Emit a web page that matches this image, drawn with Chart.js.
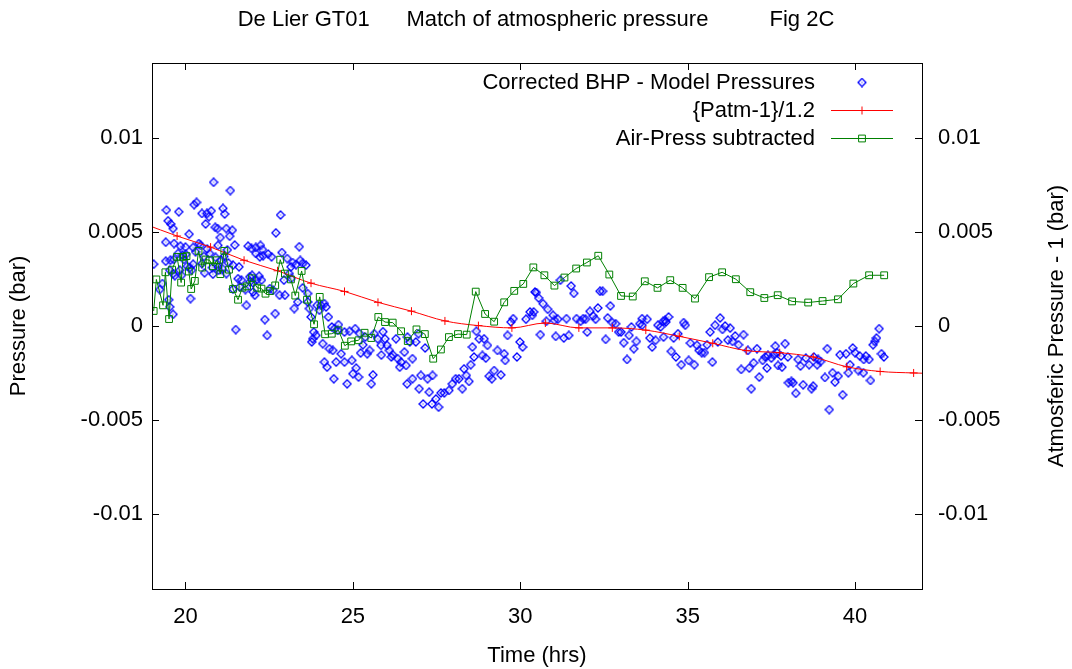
<!DOCTYPE html>
<html>
<head>
<meta charset="utf-8">
<title>De Lier GT01 - Match of atmospheric pressure</title>
<script src="https://cdn.jsdelivr.net/npm/chart.js@4.4.1/dist/chart.umd.min.js"></script>
<style>
	html, body { margin: 0; padding: 0; background: #fff; }
	#wrap { width: 1072px; height: 669px; }
</style>
</head>
<body>
<div id="wrap"><canvas id="pressureChart" width="1072" height="669"></canvas></div>
<script>
	'use strict';

	// Axis ticks
	const xTicks = [20, 25, 30, 35, 40];
	const yTicks = [-0.01, -0.005, 0, 0.005, 0.01];

	// Corrected BHP - Model Pressures (time in hrs, pressure in bar)
	const bhpTime = [
		20.84, 21.34, 20.33, 20.26, 19.43, 19.80, 20.49, 20.64, 20.77, 20.70, 20.60, 21.12, 21.17, 19.48, 19.56, 19.63,
		20.89, 20.96, 21.22, 21.40, 20.11, 22.70, 21.04, 21.32, 19.41, 19.66, 20.40, 20.45, 20.97, 21.47, 20.23, 19.78,
		19.91, 20.01, 20.72, 21.87, 21.97, 22.10, 22.24, 22.30, 19.05, 19.41, 19.55, 19.65, 19.95, 20.05, 20.13, 20.23,
		20.49, 20.57, 20.82, 20.99, 21.07, 21.28, 21.42, 21.60, 21.92, 21.99, 22.20, 22.10, 22.22, 22.32, 22.47, 22.57,
		21.42, 21.62, 21.79, 21.82, 21.50, 22.37, 22.44, 22.68, 20.15, 19.53, 19.63, 19.31, 19.23, 19.50, 19.53, 19.63,
		19.68, 19.83, 19.88, 20.18, 20.80, 20.97, 21.10, 21.22, 21.57, 21.67, 21.92, 22.02, 22.12, 22.27, 22.52, 22.62,
		22.02, 22.07, 20.30, 20.55, 20.65, 20.90, 21.15, 21.25, 20.00, 19.85,
		22.84, 23.40, 22.88, 23.04, 23.20, 23.15, 23.30, 23.43, 23.50, 23.60, 23.10, 22.94, 23.16, 22.97, 22.81, 23.25,
		23.35, 23.50, 23.65, 23.65, 23.70, 23.75, 23.93, 24.05, 24.15, 24.20, 24.00, 24.27, 23.83, 23.90, 23.80, 23.77,
		24.10, 24.37, 24.45, 24.57, 24.55, 24.75, 24.90, 25.07, 24.30, 24.40, 24.50, 24.65, 24.75, 24.15, 24.23, 24.43,
		24.83, 24.97, 25.10, 25.00, 25.17, 25.23, 25.43, 25.50, 25.37, 25.64, 25.74, 25.84, 25.55, 25.60, 25.96, 26.02,
		26.09, 26.19, 26.34, 26.44, 26.29, 26.54, 26.59, 26.62, 25.85, 26.15, 26.40, 25.30, 25.90, 25.20,
		26.63, 26.70, 26.88, 26.96, 27.16, 26.78, 26.78, 27.03, 26.98, 27.10, 27.36, 27.23, 27.38, 27.28, 27.48, 27.56,
		27.63, 27.73, 27.87, 27.97, 28.07, 28.17, 28.27, 28.32, 28.39, 28.47, 28.52, 28.57, 28.62, 28.87, 28.97, 28.92,
		28.77, 28.69, 29.02, 29.07, 29.15, 29.22, 29.42, 29.32, 29.55, 29.52, 29.79, 29.72, 29.62, 29.90, 29.99, 30.07,
		30.17, 30.29, 30.36, 30.44,
		30.48, 30.55, 30.68, 30.82, 30.40, 30.98, 31.12, 31.02, 30.78, 30.60, 31.20, 31.52, 31.60, 31.38, 31.06, 31.30,
		31.45, 31.68, 31.80, 31.88, 31.95, 32.08, 32.18, 32.25, 32.32, 32.00, 32.38, 32.46, 32.69, 32.61, 32.75, 32.85,
		32.55, 32.94, 33.01, 33.09, 33.25, 33.32, 33.39, 33.47, 33.19, 33.57, 33.64, 33.79, 33.64, 33.87, 33.94, 34.04,
		34.11, 34.19, 34.27,
		34.43, 34.33, 34.35, 34.88, 34.93, 34.71, 34.58, 34.28, 34.51, 34.65, 34.81, 35.03, 35.20, 35.28, 35.08, 35.34,
		35.42, 35.50, 35.58, 35.67, 35.74, 35.82, 35.97, 36.04, 36.12, 36.27, 35.90, 36.20, 36.34, 36.42, 36.52, 36.67,
		36.60, 36.84, 36.97, 37.14, 36.90, 37.07, 36.80, 37.24, 37.32, 37.40, 37.50, 37.57, 37.67, 37.62, 37.91, 37.37,
		37.70, 37.82, 38.01, 37.79, 37.99,
		40.72, 40.64, 40.59, 40.54, 40.79, 40.86, 39.93, 40.00, 39.55, 39.73, 40.14, 40.32, 40.42, 40.26, 39.17, 38.53,
		38.30, 38.37, 38.63, 38.87, 38.97, 38.90, 38.77, 39.10, 39.33, 39.50, 39.40, 39.85, 39.80, 40.10, 40.25, 40.46,
		38.10, 38.15, 38.45, 38.23, 38.75, 38.70, 39.63, 39.23
	];
	const bhpDiff = [
		0.00765, 0.00721, 0.00658, 0.00646, 0.00617, 0.00608, 0.00599, 0.00599, 0.00613, 0.00582, 0.00543, 0.00626, 0.00596, 0.00560, 0.00543, 0.00519,
		0.00525, 0.00519, 0.00519, 0.00510, 0.00489, 0.00496, 0.00471, 0.00478, 0.00446, 0.00439, 0.00439, 0.00429, 0.00429, 0.00431, 0.00418, 0.00386,
		0.00377, 0.00381, 0.00386, 0.00425, 0.00413, 0.00418, 0.00429, 0.00407, 0.00329, 0.00345, 0.00350, 0.00354, 0.00354, 0.00318, 0.00311, 0.00329,
		0.00332, 0.00283, 0.00276, 0.00297, 0.00351, 0.00336, 0.00324, 0.00315, 0.00262, 0.00270, 0.00265, 0.00386, 0.00368, 0.00374, 0.00383, 0.00368,
		0.00196, 0.00208, 0.00194, 0.00110, -0.00019, 0.00034, -0.00050, 0.00066, 0.00146, 0.00102, 0.00062, 0.00226, 0.00194, 0.00140, 0.00297, 0.00279,
		0.00268, 0.00297, 0.00270, 0.00297, 0.00311, 0.00315, 0.00306, 0.00279, 0.00252, 0.00244, 0.00235, 0.00229, 0.00244, 0.00244, 0.00199, 0.00190,
		0.00181, 0.00164, 0.00395, 0.00370, 0.00410, 0.00365, 0.00370, 0.00405, 0.00420, 0.00425,
		0.00591, 0.00422, 0.00391, 0.00359, 0.00338, 0.00315, 0.00327, 0.00349, 0.00333, 0.00324, 0.00279, 0.00244, 0.00253, 0.00164, 0.00164, 0.00093,
		0.00128, 0.00203, 0.00173, 0.00128, 0.00093, 0.00048, 0.00110, 0.00110, 0.00119, 0.00101, 0.00084, 0.00048, -0.00032, -0.00050, -0.00068, -0.00085,
		-0.00094, -0.00005, -0.00014, 0.00007, -0.00023, -0.00032, -0.00028, -0.00014, -0.00121, -0.00130, -0.00192, -0.00148, -0.00192, -0.00192, -0.00219, -0.00281,
		-0.00308, -0.00183, -0.00224, -0.00254, -0.00272, -0.00144, -0.00148, -0.00130, -0.00059, -0.00041, -0.00068, -0.00103, -0.00308, -0.00260, -0.00068, -0.00103,
		-0.00130, -0.00153, -0.00174, -0.00192, -0.00068, -0.00139, -0.00210, -0.00308, -0.00155, -0.00165, -0.00219, -0.00100, -0.00030, -0.00040,
		-0.00059, -0.00085, -0.00085, -0.00041, -0.00117, -0.00281, -0.00174, -0.00263, -0.00334, -0.00415, -0.00415, -0.00281, -0.00263, -0.00352, -0.00388, -0.00432,
		-0.00356, -0.00356, -0.00343, -0.00308, -0.00281, -0.00281, -0.00334, -0.00228, -0.00263, -0.00295, -0.00206, -0.00112, -0.00165, -0.00157, -0.00171, -0.00068,
		-0.00068, -0.00028, -0.00103, -0.00267, -0.00281, -0.00237, -0.00260, -0.00130, -0.00183, -0.00148, 0.00039, 0.00021, -0.00050, -0.00165, -0.00085, -0.00112,
		0.00036, 0.00075, 0.00057, 0.00181,
		0.00178, 0.00149, 0.00119, 0.00089, 0.00075, 0.00057, 0.00036, 0.00030, 0.00025, -0.00046, 0.00244, 0.00213, 0.00174, 0.00039, -0.00055, -0.00064,
		-0.00050, 0.00039, 0.00025, 0.00039, 0.00036, 0.00078, 0.00053, 0.00036, 0.00096, -0.00032, 0.00185, 0.00185, 0.00107, 0.00043, 0.00018, 0.00012,
		-0.00071, -0.00032, -0.00032, -0.00089, -0.00050, -0.00005, -0.00121, -0.00082, -0.00178, 0.00012, 0.00039, 0.00036, 0.00004, -0.00064, -0.00112, -0.00076,
		0.00004, -0.00005, 0.00025,
		0.00048, 0.00030, 0.00021, 0.00018, 0.00004, -0.00041, -0.00064, -0.00059, -0.00135, -0.00165, -0.00206, -0.00183, -0.00206, -0.00103, -0.00091, -0.00130,
		-0.00142, -0.00142, -0.00100, -0.00032, -0.00192, 0.00004, 0.00043, -0.00018, 0.00000, -0.00011, -0.00085, -0.00075, -0.00082, -0.00053, -0.00100, -0.00046,
		-0.00231, -0.00224, -0.00196, -0.00272, -0.00334, -0.00121, -0.00130, -0.00183, -0.00165, -0.00157, -0.00171, -0.00153, -0.00142, -0.00107, -0.00094, -0.00224,
		-0.00210, -0.00219, -0.00302, -0.00160, -0.00165,
		-0.00014, -0.00064, -0.00082, -0.00100, -0.00148, -0.00165, -0.00117, -0.00142, -0.00153, -0.00148, -0.00160, -0.00160, -0.00178, -0.00178, -0.00121, -0.00171,
		-0.00178, -0.00213, -0.00206, -0.00206, -0.00189, -0.00178, -0.00165, -0.00274, -0.00249, -0.00267, -0.00299, -0.00206, -0.00249, -0.00237, -0.00249, -0.00290,
		-0.00295, -0.00302, -0.00313, -0.00358, -0.00320, -0.00334, -0.00366, -0.00445
	];

	// {Patm-1}/1.2
	const patmTime = [18.75, 19.75, 20.75, 21.75, 22.75, 23.75, 24.75, 25.75, 26.75, 27.75, 28.75, 29.75, 30.75,
		31.75, 32.75, 33.75, 34.75, 35.75, 36.75, 37.75, 38.75, 39.75, 40.75, 41.75, 42.75];
	const patmValue = [0.00545, 0.00479, 0.00420, 0.00350, 0.00294, 0.00228, 0.00184, 0.00126, 0.00079, 0.00027, 0.00002, -0.00010, 0.00016,
		-0.00010, -0.00010, -0.00022, -0.00055, -0.00092, -0.00131, -0.00142, -0.00165, -0.00217, -0.00242, -0.00250, -0.00255];

	// Air-Press subtracted
	const airTime = [19.05, 19.13, 19.33, 19.40, 19.51, 19.60, 19.75, 19.87, 19.93, 20.03, 20.10, 20.17, 20.28, 20.39, 20.50, 20.60,
		20.72, 20.82, 20.94, 21.04, 21.16, 21.30, 21.42, 21.57, 21.70, 21.84, 21.98, 22.14, 22.27, 22.39, 22.52, 22.68,
		22.83, 22.97, 23.15, 23.28, 23.47, 23.63, 23.84, 24.01, 24.17, 24.37, 24.57, 24.76, 24.95, 25.17, 25.35, 25.55,
		25.76, 25.96, 26.19, 26.44, 26.64, 26.90, 27.15, 27.40, 27.63, 27.87, 28.14, 28.40, 28.67, 28.95, 29.22, 29.52,
		29.82, 30.09, 30.39, 30.72, 31.02, 31.32, 31.67, 31.99, 32.33, 32.66, 33.01, 33.36, 33.72, 34.10, 34.48, 34.85,
		35.22, 35.64, 36.03, 36.44, 36.87, 37.29, 37.69, 38.12, 38.60, 39.03, 39.49, 39.95, 40.42, 40.87];
	const airValue = [0.00080, 0.00248, 0.00110, 0.00286, 0.00037, 0.00300, 0.00368, 0.00231, 0.00368, 0.00372, 0.00290, 0.00197, 0.00240, 0.00400, 0.00311, 0.00354,
		0.00350, 0.00318, 0.00350, 0.00276, 0.00400, 0.00300, 0.00197, 0.00140, 0.00204, 0.00211, 0.00254, 0.00204, 0.00199, 0.00172, 0.00186, 0.00216,
		0.00353, 0.00279, 0.00248, 0.00162, 0.00293, 0.00140, 0.00009, 0.00155, -0.00044, -0.00041, -0.00023, -0.00105, -0.00082, -0.00076, -0.00036, -0.00064,
		0.00048, 0.00021, 0.00018, -0.00028, -0.00080, -0.00018, -0.00043, -0.00174, -0.00125, -0.00059, -0.00043, -0.00046, 0.00183, 0.00064, 0.00023, 0.00126,
		0.00187, 0.00224, 0.00312, 0.00270, 0.00215, 0.00258, 0.00306, 0.00338, 0.00374, 0.00274, 0.00160, 0.00157, 0.00238, 0.00203, 0.00244, 0.00203,
		0.00146, 0.00260, 0.00286, 0.00249, 0.00180, 0.00149, 0.00164, 0.00131, 0.00125, 0.00133, 0.00142, 0.00226, 0.00270, 0.00270];

	const toPoints = (xs, ys) => xs.map((x, i) => ({ x: x, y: ys[i] }));

	const FONT = "'Liberation Sans', Arial, sans-serif";
	const FONT_SIZE = 22;
	Chart.defaults.font.family = FONT;
	Chart.defaults.font.size = FONT_SIZE;
	Chart.defaults.color = '#000';

	/**
	 * gnuplot style hollow diamond with a centre dot
	 */
	function makeDiamond() {
		const c = document.createElement('canvas');
		c.width = 10;
		c.height = 10;
		const g = c.getContext('2d');
		g.strokeStyle = '#0000ff';
		g.lineWidth = 1.3;
		g.beginPath();
		g.moveTo(5, 1);
		g.lineTo(9, 5);
		g.lineTo(5, 9);
		g.lineTo(1, 5);
		g.closePath();
		g.stroke();
		g.fillStyle = '#0000ff';
		g.fillRect(4.5, 4.5, 1, 1);
		return c;
	}
	const diamond = makeDiamond();

	/**
	 * Frame with inward ticks on all four sides, gnuplot style
	 */
	const framePlugin = {
		id: 'frame',
		afterDraw(chart) {
			const { ctx, chartArea: a, scales } = chart;
			const len = 7;
			ctx.save();
			ctx.strokeStyle = '#000';
			ctx.lineWidth = 1;
			ctx.beginPath();
			xTicks.forEach(v => {
				const px = Math.round(scales.x.getPixelForValue(v)) + 0.5;
				ctx.moveTo(px, a.bottom);
				ctx.lineTo(px, a.bottom - len);
				ctx.moveTo(px, a.top);
				ctx.lineTo(px, a.top + len);
			});
			yTicks.forEach(v => {
				const py = Math.round(scales.y.getPixelForValue(v)) + 0.5;
				ctx.moveTo(a.left, py);
				ctx.lineTo(a.left + len, py);
				ctx.moveTo(a.right, py);
				ctx.lineTo(a.right - len, py);
			});
			ctx.stroke();
			ctx.strokeRect(Math.round(a.left) + 0.5, Math.round(a.top) + 0.5,
				Math.round(a.right - a.left), Math.round(a.bottom - a.top));
			ctx.restore();
		}
	};

	/**
	 * Right hand axis title, reading bottom to top
	 */
	const rightTitlePlugin = {
		id: 'rightTitle',
		afterDraw(chart) {
			const ctx = chart.ctx;
			ctx.save();
			ctx.font = FONT_SIZE + 'px ' + FONT;
			ctx.fillStyle = '#000';
			ctx.textAlign = 'center';
			ctx.textBaseline = 'middle';
			ctx.translate(1057, (chart.chartArea.top + chart.chartArea.bottom) / 2);
			ctx.rotate(-Math.PI / 2);
			ctx.fillText('Atmosferic Pressure - 1 (bar)', 0, 0);
			ctx.restore();
		}
	};

	/**
	 * Key in the top right corner: text right aligned, then the sample
	 */
	const keyPlugin = {
		id: 'key',
		afterDraw(chart) {
			const ctx = chart.ctx;
			const textRight = 815;
			const lineFrom = 831;
			const lineTo = 893;
			const mid = 862;
			const rows = [82.5, 110.5, 138.5];
			const order = [2, 1, 0];

			ctx.save();
			ctx.font = FONT_SIZE + 'px ' + FONT;
			ctx.textAlign = 'right';
			ctx.textBaseline = 'middle';
			order.forEach((di, r) => {
				const ds = chart.data.datasets[di];
				const y = rows[r];
				ctx.fillStyle = '#000';
				ctx.fillText(ds.label, textRight, y);
				if (ds.showLine) {
					ctx.strokeStyle = ds.borderColor;
					ctx.lineWidth = ds.borderWidth;
					ctx.beginPath();
					ctx.moveTo(lineFrom, y);
					ctx.lineTo(lineTo, y);
					ctx.stroke();
				}
				ctx.fillStyle = 'rgba(0,0,0,0)';
				ctx.strokeStyle = ds.pointBorderColor || '#0000ff';
				ctx.lineWidth = 1;
				Chart.helpers.drawPoint(ctx, {
					pointStyle: ds.pointStyle,
					radius: ds.pointRadius,
					borderWidth: 1,
					rotation: 0
				}, mid, y);
			});
			ctx.restore();
		}
	};

	const fixedTicks = values => scale => {
		scale.ticks = values.map(v => ({ value: v }));
	};

	new Chart(document.getElementById('pressureChart'), {
		type: 'scatter',
		data: {
			datasets: [
				{
					label: 'Air-Press subtracted',
					type: 'line',
					data: toPoints(airTime, airValue),
					borderColor: '#008000',
					borderWidth: 1,
					pointStyle: 'rect',
					pointRadius: 4.8,
					pointBorderColor: '#008000',
					pointBorderWidth: 1,
					pointBackgroundColor: 'rgba(0,0,0,0)',
					showLine: true,
					tension: 0,
					order: 0
				},
				{
					label: '{Patm-1}/1.2',
					type: 'line',
					data: toPoints(patmTime, patmValue),
					borderColor: '#ff0000',
					borderWidth: 1,
					pointStyle: 'cross',
					pointRadius: 4,
					pointBorderColor: '#ff0000',
					pointBorderWidth: 1,
					showLine: true,
					cubicInterpolationMode: 'monotone',
					order: 1
				},
				{
					label: 'Corrected BHP - Model Pressures',
					data: toPoints(bhpTime, bhpDiff),
					pointStyle: diamond,
					pointRadius: 4,
					showLine: false,
					order: 2
				}
			]
		},
		options: {
			responsive: false,
			animation: false,
			events: [],
			layout: { padding: 0 },
			plugins: {
				legend: { display: false },
				tooltip: { enabled: false },
				title: {
					display: true,
					text: 'De Lier GT01      Match of atmospheric pressure          Fig 2C',
					font: { size: FONT_SIZE, weight: 'normal' },
					color: '#000',
					padding: { top: 7, bottom: 29.6 }
				}
			},
			scales: {
				x: {
					type: 'linear',
					min: 19,
					max: 42,
					afterBuildTicks: fixedTicks(xTicks),
					afterFit: s => { s.height = 80; },
					grid: { display: false, drawTicks: false },
					border: { display: false },
					ticks: { padding: 15, maxRotation: 0, callback: v => String(v) },
					title: { display: true, text: 'Time (hrs)', padding: { top: 0, bottom: 0 } }
				},
				y: {
					type: 'linear',
					position: 'left',
					min: -0.014,
					max: 0.014,
					afterBuildTicks: fixedTicks(yTicks),
					afterFit: s => { s.width = 152; },
					grid: { display: false, drawTicks: false },
					border: { display: false },
					ticks: { padding: 9, callback: v => String(v) },
					title: { display: true, text: 'Pressure (bar)', padding: { top: 6, bottom: 0 } }
				},
				y2: {
					type: 'linear',
					position: 'right',
					min: -0.014,
					max: 0.014,
					afterBuildTicks: fixedTicks(yTicks),
					afterFit: s => { s.width = 150; },
					grid: { display: false, drawTicks: false },
					border: { display: false },
					ticks: { padding: 16, callback: v => String(v) }
				}
			}
		},
		plugins: [framePlugin, rightTitlePlugin, keyPlugin]
	});
</script>
</body>
</html>
